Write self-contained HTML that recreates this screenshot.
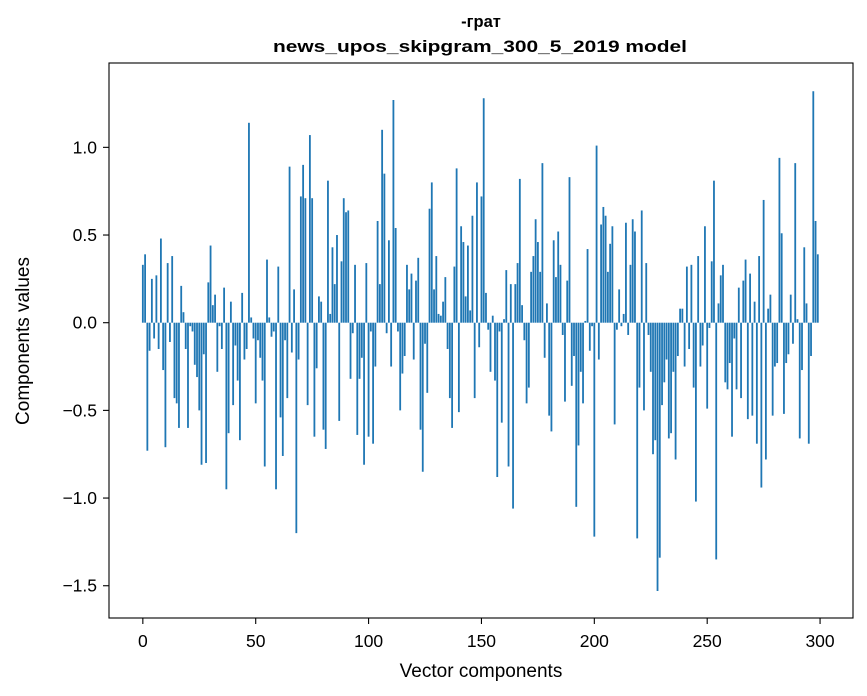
<!DOCTYPE html>
<html><head><meta charset="utf-8"><style>
html,body{margin:0;padding:0;background:#fff;}
svg{display:block;font-family:"Liberation Sans",Arial,sans-serif;}
</style></head><body>
<svg id="chart" width="867" height="696" viewBox="0 0 867 696" xmlns="http://www.w3.org/2000/svg">
<rect x="0" y="0" width="867" height="696" fill="#fff"/>
<text x="481" y="27" text-anchor="middle" font-weight="bold" font-size="16.5" fill="#000">-грат</text>
<text x="480" y="52" text-anchor="middle" font-weight="bold" font-size="16.5" textLength="414" lengthAdjust="spacingAndGlyphs" fill="#000">news_upos_skipgram_300_5_2019 model</text>
<g id="bars"></g>
<g id="axes"></g>
<text x="481" y="677" text-anchor="middle" font-size="19" fill="#000">Vector components</text>
<text transform="translate(29,341) rotate(-90)" text-anchor="middle" font-size="19" fill="#000">Components values</text>
</svg>
<script>
const values = [
0.33,0.39,-0.73,-0.16,0.25,-0.09,0.27,-0.15,0.48,-0.27,
-0.71,0.34,-0.11,0.38,-0.43,-0.46,-0.60,0.21,0.06,-0.15,
-0.60,-0.02,-0.05,-0.24,-0.31,-0.50,-0.81,-0.18,-0.80,0.23,
0.44,0.10,0.16,-0.28,-0.02,-0.15,0.20,-0.95,-0.63,0.12,
-0.47,-0.13,-0.33,-0.67,0.17,-0.21,-0.15,1.14,0.03,-0.09,
-0.46,-0.10,-0.20,-0.33,-0.82,0.36,0.03,-0.08,-0.05,-0.95,
0.32,-0.54,-0.76,-0.10,-0.43,0.89,-0.17,0.19,-1.20,-0.21,
0.72,0.90,0.71,-0.47,1.07,0.71,-0.65,-0.26,0.15,0.12,
-0.61,-0.72,0.81,0.05,0.43,0.22,0.50,-0.56,0.35,0.71,
0.63,0.64,-0.32,-0.06,0.33,-0.64,-0.32,-0.20,-0.81,0.34,
-0.65,-0.05,-0.69,-0.25,0.58,0.22,1.10,0.85,-0.06,0.47,
-0.25,1.27,0.54,-0.05,-0.50,-0.29,-0.19,0.33,0.19,0.28,
-0.21,0.24,0.37,-0.61,-0.85,-0.12,-0.40,0.65,0.80,0.19,
0.38,0.05,0.04,0.12,0.26,-0.15,-0.43,-0.60,0.32,0.88,
-0.51,0.55,0.46,0.15,0.44,0.07,0.61,-0.43,0.80,-0.14,
0.72,1.28,0.17,-0.04,-0.28,0.04,-0.33,-0.88,-0.05,-0.57,
0.02,0.30,-0.82,0.22,-1.06,0.22,0.34,0.82,0.10,-0.10,
-0.46,-0.37,0.29,0.38,0.59,0.46,0.29,0.91,-0.20,0.11,
-0.53,-0.62,0.47,0.26,0.52,0.33,-0.07,-0.45,0.24,0.83,
-0.36,-0.19,-1.05,-0.70,-0.28,-0.46,0.01,0.42,-0.16,-0.02,
-1.22,1.01,-0.21,0.56,0.66,0.61,0.29,0.45,0.55,-0.58,
-0.04,0.19,-0.02,0.05,0.57,-0.07,0.33,0.59,0.52,-1.23,
-0.37,0.64,-0.50,0.34,-0.07,-0.28,-0.75,-0.67,-1.53,-1.34,
-0.47,-0.34,-0.21,-0.66,-0.63,-0.28,-0.78,-0.19,0.08,0.08,
-0.25,0.32,-0.15,0.33,-0.37,-1.02,0.38,-0.25,-0.13,0.55,
-0.49,-0.03,0.35,0.81,-1.35,0.11,0.27,0.33,-0.34,-0.38,
-0.23,-0.65,-0.09,-0.38,0.20,-0.43,0.24,0.36,-0.55,0.28,
-0.53,0.12,-0.69,0.38,-0.94,0.70,-0.78,0.08,0.16,-0.53,
-0.25,-0.23,0.94,0.51,-0.52,-0.23,-0.18,0.16,-0.12,0.91,
0.02,-0.66,-0.27,0.43,0.11,-0.69,-0.19,1.32,0.58,0.39
];
const xTicks = [0,50,100,150,200,250,300];
const yTicks = [-1.5,-1.0,-0.5,0.0,0.5,1.0];
const yTickLabels = ["\u22121.5","\u22121.0","\u22120.5","0.0","0.5","1.0"];

const L=109,R=853,T=63,B=618;
const xMin=-14.99,xMax=314.59,yMin=-1.684,yMax=1.481;
const sx=v=>L+(v-xMin)/(xMax-xMin)*(R-L);
const sy=v=>B-(v-yMin)/(yMax-yMin)*(B-T);
const NS="http://www.w3.org/2000/svg";
const bars=document.getElementById('bars');
values.forEach((v,i)=>{
  const r=document.createElementNS(NS,'rect');
  const x0=sx(i-0.4),x1=sx(i+0.4);
  const y0=sy(Math.max(v,0)),y1=sy(Math.min(v,0));
  r.setAttribute('x',x0);r.setAttribute('width',x1-x0);
  r.setAttribute('y',y0);r.setAttribute('height',Math.max(y1-y0,0.01));
  r.setAttribute('fill','#1f77b4');
  
  
  bars.appendChild(r);
});
const axes=document.getElementById('axes');
const fr=document.createElementNS(NS,'rect');
fr.setAttribute('x',L);fr.setAttribute('y',T);fr.setAttribute('width',R-L);fr.setAttribute('height',B-T);
fr.setAttribute('fill','none');fr.setAttribute('stroke','#000');fr.setAttribute('stroke-width','1.1');


axes.appendChild(fr);
xTicks.forEach(t=>{
  const x=sx(t);
  const l=document.createElementNS(NS,'line');
  l.setAttribute('x1',x);l.setAttribute('x2',x);l.setAttribute('y1',B);l.setAttribute('y2',B+6);
  l.setAttribute('stroke','#000');l.setAttribute('stroke-width','1.1');
  
  
  axes.appendChild(l);
  const tx=document.createElementNS(NS,'text');
  tx.setAttribute('x',x);tx.setAttribute('y',B+29);tx.setAttribute('text-anchor','middle');
  tx.setAttribute('font-size','17.5');tx.textContent=String(t);
  
  
  axes.appendChild(tx);
});
yTicks.forEach((t,i)=>{
  const y=sy(t);
  const l=document.createElementNS(NS,'line');
  l.setAttribute('x1',L-6);l.setAttribute('x2',L);l.setAttribute('y1',y);l.setAttribute('y2',y);
  l.setAttribute('stroke','#000');l.setAttribute('stroke-width','1.1');
  
  
  axes.appendChild(l);
  const tx=document.createElementNS(NS,'text');
  tx.setAttribute('x',L-12);tx.setAttribute('y',y+6);tx.setAttribute('text-anchor','end');
  tx.setAttribute('font-size','17.5');tx.textContent=yTickLabels[i];
  
  
  axes.appendChild(tx);
});
</script>
</body></html>
